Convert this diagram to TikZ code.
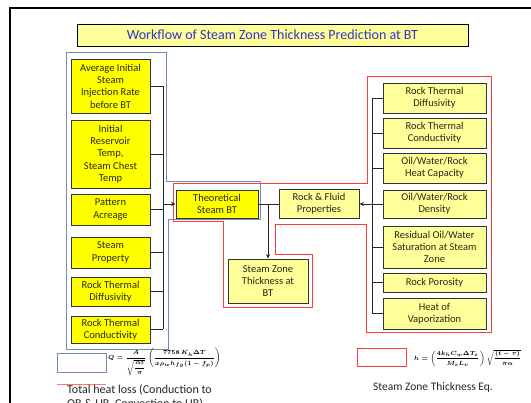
\documentclass[tikz,border=0pt]{standalone}
\usepackage{amsmath}
\usepackage{fontspec}
\setmainfont{Carlito}
\usetikzlibrary{arrows.meta}
\definecolor{yel}{RGB}{255,255,0}
\definecolor{ltyel}{RGB}{255,255,153}
\definecolor{grpblue}{RGB}{110,140,190}
\definecolor{grpred}{RGB}{255,60,60}
\definecolor{ttlblue}{RGB}{50,50,200}
\definecolor{txt}{RGB}{40,40,20}
\newsavebox\eqQbox
\newsavebox\eqHbox
\tikzset{
  boxbase/.style={draw=black!80, line width=0.9pt, align=center, inner sep=1pt,
    font=\fontsize{10.5}{12.3}\selectfont, text=txt},
  lbox/.style={boxbase, fill=yel},
  rbox/.style={boxbase, fill=ltyel},
  conn/.style={draw=black!85, line width=0.8pt},
  arr/.style={conn, -{Stealth[length=4.5pt,width=4pt]}},
  grpb/.style={draw=grpblue, line width=1pt},
  grpr/.style={draw=grpred, line width=1pt},
}
\begin{document}
\sbox\eqQbox{\fontsize{6.5}{7.5}\selectfont\boldmath$Q=\dfrac{A}{\sqrt{\dfrac{\alpha t}{\pi}}}\left(\dfrac{7758\,K_h\Delta T}{x\rho_w h_{fg}(1-f_p)}\right)$}%
\sbox\eqHbox{\fontsize{6.5}{7.5}\selectfont\boldmath$h=\left(\dfrac{4k_hC_w\Delta T_s}{M_sL_v}\right)\sqrt{\dfrac{(t-\tau)}{\pi\alpha}}$}%
\begin{tikzpicture}[x=1pt,y=-1pt]
\useasboundingbox (0,0) rectangle (531,403);
\clip (0,0) rectangle (531,403);
\fill[white] (0,0) rectangle (531,403);
% frame
\draw[line width=2.2pt, black] (10,420) -- (10,8) -- (545,8);
% title
\node[draw=black, line width=0.8pt, fill=ltyel, minimum width=391pt, minimum height=22pt, inner sep=0pt,
  font=\fontsize{14}{16}\selectfont, text=ttlblue] (title) at (272.5,35)
  {Workflow of Steam Zone Thickness Prediction at BT};
% group outlines
\draw[grpb] (66,53) -- (166,53) -- (166,182) -- (260,182) -- (260,220) -- (168,220) -- (168,350) -- (66,350) -- cycle;
\draw[grpr] (367,77) -- (491,77) -- (491,333) -- (366,333) -- (366,225) -- (275,225) -- (275,255)
  -- (312,255) -- (312,308) -- (223,308) -- (223,222) -- (173,222) -- (173,184) -- (367,184) -- cycle;
% left boxes
\node[lbox, minimum width=79pt, minimum height=54pt] (l1) at (110.5,86) {Average Initial\\Steam\\Injection Rate\\before BT};
\node[lbox, minimum width=79pt, minimum height=68pt] (l2) at (110.5,154) {Initial\\Reservoir\\Temp,\\Steam Chest\\Temp};
\node[lbox, minimum width=79pt, minimum height=31pt] (l3) at (110.5,209.5) {Pattern\\Acreage};
\node[lbox, minimum width=79pt, minimum height=31pt] (l4) at (110.5,252.5) {Steam\\Property};
\node[lbox, minimum width=79pt, minimum height=29pt] (l5) at (110.5,291.5) {Rock Thermal\\Diffusivity};
\node[lbox, minimum width=79pt, minimum height=27pt] (l6) at (110.5,329.5) {Rock Thermal\\Conductivity};
% middle boxes
\node[lbox, minimum width=82pt, minimum height=28pt] (theo) at (217,204) {Theoretical\\Steam BT};
\node[rbox, minimum width=80pt, minimum height=29pt] (rf) at (319,204) {Rock \& Fluid\\Properties};
\node[rbox, minimum width=80pt, minimum height=44pt] (sz) at (268,281) {Steam Zone\\Thickness at\\BT};
% right boxes
\node[rbox, minimum width=103pt, minimum height=30pt] (r1) at (434.5,98) {Rock Thermal\\Diffusivity};
\node[rbox, minimum width=103pt, minimum height=30pt] (r2) at (434.5,133) {Rock Thermal\\Conductivity};
\node[rbox, minimum width=103pt, minimum height=30pt] (r3) at (434.5,168) {Oil/Water/Rock\\Heat Capacity};
\node[rbox, minimum width=103pt, minimum height=28pt] (r4) at (434.5,204) {Oil/Water/Rock\\Density};
\node[rbox, minimum width=103pt, minimum height=42pt] (r5) at (434.5,247) {Residual Oil/Water\\Saturation at Steam\\Zone};
\node[rbox, minimum width=103pt, minimum height=19pt] (r6) at (434.5,282.5) {Rock Porosity};
\node[rbox, minimum width=103pt, minimum height=31pt] (r7) at (434.5,313.5) {Heat of\\Vaporization};
% buses
\coordinate (lbus) at (163,0);
\coordinate (rbus) at (372,0);
\foreach \n in {l1,l2,l3,l4,l5,l6} { \draw[conn] (\n.east) -- (\n.east -| lbus); }
\draw[conn] (l1.east -| lbus) -- (l6.east -| lbus);
\draw[arr] (theo.west -| lbus) -- (theo.west);
\foreach \n in {r1,r2,r3,r4,r5,r6,r7} { \draw[conn] (\n.west) -- (\n.west -| rbus); }
\draw[conn] (r1.west -| rbus) -- (r7.west -| rbus);
\draw[arr] (rf.east -| rbus) -- (rf.east);
\draw[conn] (rf.west) -- (theo.east);
\draw[arr] (sz.north |- rf.west) -- (sz.north);
% legend
\node[draw=grpblue, line width=1pt, fill=white, minimum width=49pt, minimum height=19pt, inner sep=0pt] (legb) at (81.5,363.5) {};
\node[anchor=west, inner sep=0pt] (eqq) at (108,362) {\usebox\eqQbox};
\draw[draw=grpred!70, line width=0.6pt] (57,384) -- (106,384);
\node[anchor=north west, align=left, inner sep=0pt, font=\fontsize{12}{14}\selectfont, text=black!85] (tl) at (67,384.5) {Total heat loss (Conduction to\\OB \& UB, Convection to UB)};
\node[draw=grpred, line width=1pt, fill=white, minimum width=49pt, minimum height=18pt, inner sep=0pt] (legr) at (381.5,358) {};
\node[anchor=west, inner sep=0pt] (eqh) at (414,358) {\usebox\eqHbox};
\node[inner sep=0pt, font=\fontsize{11.5}{13}\selectfont, text=black!85] (szeq) at (433,387) {Steam Zone Thickness Eq.};
\end{tikzpicture}
\end{document}
